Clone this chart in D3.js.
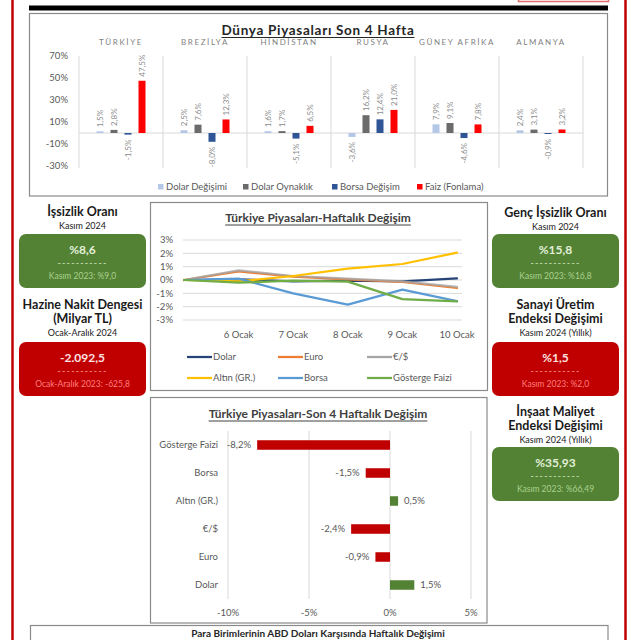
<!DOCTYPE html>
<html><head><meta charset="utf-8">
<script src="https://cdn.jsdelivr.net/npm/d3@7"></script>
<style>
html,body{margin:0;padding:0;background:#fff;}
svg{display:block;font-family:Lato,"Open Sans",sans-serif;}
</style></head><body>
<svg id="c" width="640" height="640"></svg>
<script>
// ---------- DATA ----------
const countries = ["TÜRKİYE","BREZİLYA","HİNDİSTAN","RUSYA","GÜNEY AFRİKA","ALMANYA"];
const worldSeries = ["Dolar Değişimi","Dolar Oynaklık","Borsa Değişim","Faiz (Fonlama)"];
const dolarDegisimi = [1.5,2.5,1.6,-3.6,7.9,2.4];
const dolarOynaklik = [2.8,7.6,1.7,16.2,9.1,3.1];
const borsaDegisim  = [-1.5,-8.0,-5.1,12.4,-4.6,-0.9];
const faizFonlama   = [47.5,12.3,6.5,21.0,7.8,3.2];
const worldTicks = [-30,-10,10,30,50,70];

const days = ["","6 Ocak","7 Ocak","8 Ocak","9 Ocak","10 Ocak"];
const weeklySeries = ["Dolar","Euro","€/$","Altın (GR.)","Borsa","Gösterge Faizi"];
const wDolar  = [0,0.05,-0.1,-0.05,-0.1,0.12];
const wEuro   = [0,0.65,0.25,0.05,-0.15,-0.6];
const wEurUsd = [0,0.72,0.3,0.1,-0.1,-0.52];
const wAltin  = [0,-0.1,0.3,0.85,1.2,2.05];
const wBorsa  = [0,0.1,-1.0,-1.85,-0.72,-1.58];
const wFaiz   = [0,-0.2,-0.05,-0.12,-1.43,-1.6];
const weeklyTicks = [-3,-2,-1,0,1,2,3];

const fourWeekCats = ["Gösterge Faizi","Borsa","Altın (GR.)","€/$","Euro","Dolar"];
const fourWeekVals = [-8.2,-1.5,0.5,-2.4,-0.9,1.5];
const fourWeekTicks = [-10,-5,0,5];

const kpiTitles = [["İşsizlik Oranı"],["Hazine Nakit Dengesi","(Milyar TL)"],["Genç İşsizlik Oranı"],["Sanayi Üretim","Endeksi Değişimi"],["İnşaat Maliyet","Endeksi Değişimi"]];
const kpiPeriods = ["Kasım 2024","Ocak-Aralık 2024","Kasım 2024","Kasım 2024 (Yıllık)","Kasım 2024 (Yıllık)"];
const kpiValues = ["%8,6","-2.092,5","%15,8","%1,5","%35,93"];
const kpiPrevious = ["Kasım 2023: %9,0","Ocak-Aralık 2023: -625,8","Kasım 2023: %16,8","Kasım 2023: %2,0","Kasım 2023: %66,49"];
const kpiGood = [true,false,true,false,true];

const bottomTitle = "Para Birimlerinin ABD Doları Karşısında Haftalık Değişimi";

// ---------- DRAW ----------
const svg = d3.select("#c");
const fmtPct = v => v.toFixed(1).replace(".", ",") + "%";
const TXT = "#595959";

function underline(sel, y, color, w){
  const node = sel.node();
  const len = node.getComputedTextLength();
  const cx = +sel.attr("x");
  svg.append("line").attr("x1", cx - len/2).attr("x2", cx + len/2)
    .attr("y1", y).attr("y2", y).attr("stroke", color).attr("stroke-width", w || 1);
}

// frame
svg.append("line").attr("x1",12.5).attr("x2",12.5).attr("y1",0).attr("y2",640).attr("stroke","#c00000").attr("stroke-width",2.5);
svg.append("line").attr("x1",625.5).attr("x2",625.5).attr("y1",0).attr("y2",640).attr("stroke","#c00000").attr("stroke-width",2.5);
svg.append("rect").attr("x",518.5).attr("y",-20).attr("width",90).attr("height",21.5).attr("fill","none").attr("stroke","#e46c6c").attr("stroke-width",1.5);
svg.append("rect").attr("x",29).attr("y",5.5).attr("width",579).attr("height",5).attr("fill","#000");

// boxes
const boxStroke = "#8a8a8a";
svg.append("rect").attr("x",29.5).attr("y",13.5).attr("width",578).attr("height",182.5).attr("fill","#fff").attr("stroke",boxStroke).attr("stroke-width",1.2);
svg.append("rect").attr("x",150.5).attr("y",202.5).attr("width",337).attr("height",188).attr("fill","#fff").attr("stroke",boxStroke).attr("stroke-width",1.2);
svg.append("rect").attr("x",150.5).attr("y",397.5).attr("width",336.5).attr("height",225.5).attr("fill","#fff").attr("stroke",boxStroke).attr("stroke-width",1.2);
svg.append("rect").attr("x",30.5).attr("y",625.5).attr("width",577.5).attr("height",60).attr("fill","#fff").attr("stroke",boxStroke).attr("stroke-width",1.2);

// ===== World chart =====
const t1 = svg.append("text").attr("x",318).attr("y",30.5).attr("dy","0.35em").attr("text-anchor","middle")
  .attr("font-size",13.5).attr("font-weight",700).attr("letter-spacing",0.7).attr("fill","#262626")
  .text("Dünya Piyasaları Son 4 Hafta");
underline(t1, 37.5, "#262626", 1.1);

const x0 = d3.scaleBand().domain(countries).range([79,583]);
const x1 = d3.scaleBand().domain(worldSeries).range([0,x0.bandwidth()]).paddingOuter(1);
const yW = d3.scaleLinear().domain([-30,70]).range([166,56]);
const worldColors = d3.scaleOrdinal().domain(worldSeries).range(["#b4c7e7","#6b6b6b","#2f5597","#ff0000"]);
const worldVals = [dolarDegisimi, dolarOynaklik, borsaDegisim, faizFonlama];

const gW = svg.append("g");
const seps = countries.map(c => x0(c)).concat([x0.range()[1]]);
gW.selectAll("line.sep").data(seps).join("line")
  .attr("x1",d=>d).attr("x2",d=>d).attr("y1",yW(70)).attr("y2",yW(-30)+2)
  .attr("stroke","#d9d9d9").attr("stroke-width",1);
gW.append("line").attr("x1",x0.range()[0]).attr("x2",x0.range()[1]).attr("y1",yW(0)).attr("y2",yW(0))
  .attr("stroke","#d9d9d9").attr("stroke-width",1);
gW.selectAll("text.yt").data(worldTicks).join("text")
  .attr("x",68).attr("y",d=>yW(d)).attr("dy","0.35em").attr("text-anchor","end")
  .attr("font-size",9.5).attr("fill",TXT).text(d=>d+"%");
gW.selectAll("text.cl").data(countries).join("text")
  .attr("x",d=>x0(d)+x0.bandwidth()/2).attr("y",42).attr("dy","0.35em").attr("text-anchor","middle")
  .attr("font-size",8).attr("letter-spacing",1.6).attr("fill","#7f7f7f").text(d=>d);
const worldData = [];
countries.forEach((c,i)=>worldSeries.forEach((s,j)=>worldData.push({c,s,v:worldVals[j][i]})));
const bw = x1.bandwidth()*0.5;
gW.selectAll("rect.b").data(worldData).join("rect")
  .attr("x",d=>x0(d.c)+x1(d.s)+(x1.bandwidth()-bw)/2)
  .attr("width",bw)
  .attr("y",d=>yW(Math.max(0,d.v)))
  .attr("height",d=>Math.max(0.8,Math.abs(yW(d.v)-yW(0))))
  .attr("fill",d=>worldColors(d.s));
gW.selectAll("text.dl").data(worldData).join("text")
  .attr("transform",d=>{
    const cx = x0(d.c)+x1(d.s)+x1.bandwidth()/2;
    const cy = d.v>=0 ? yW(d.v)-4 : yW(d.v)+5;
    return `translate(${cx},${cy}) rotate(-90)`;
  })
  .attr("dy","0.35em").attr("text-anchor",d=>d.v>=0?"start":"end")
  .attr("font-size",8).attr("fill","#8c8c8c").text(d=>fmtPct(d.v));
const legX = [158,243,332,417];
worldSeries.forEach((s,i)=>{
  gW.append("rect").attr("x",legX[i]).attr("y",184).attr("width",5.5).attr("height",5.5).attr("fill",worldColors(s));
  gW.append("text").attr("x",legX[i]+8).attr("y",187).attr("dy","0.35em").attr("font-size",9.5).attr("fill",TXT).text(s);
});

// ===== KPI cards =====
const kpiLayout = [{cx:82.5,ty:212,by:234},{cx:82.5,ty:305,by:342},{cx:555.5,ty:213,by:234},{cx:555.5,ty:305,by:342},{cx:555.5,ty:412,by:447}];
kpiTitles.forEach((lines,i)=>{
  const L = kpiLayout[i];
  const g = svg.append("g");
  lines.forEach((ln,k)=>{
    g.append("text").attr("x",L.cx).attr("y",L.ty+k*14).attr("dy","0.35em").attr("text-anchor","middle")
      .attr("font-size",12.5).attr("font-weight",700).attr("fill","#1a1a1a").text(ln);
  });
  g.append("text").attr("x",L.cx).attr("y",L.ty+(lines.length-1)*14+13.5).attr("dy","0.35em").attr("text-anchor","middle")
    .attr("font-size",9).attr("fill","#1a1a1a").text(kpiPeriods[i]);
  const good = kpiGood[i];
  g.append("rect").attr("x",L.cx-63.5).attr("y",L.by).attr("width",127).attr("height",54).attr("rx",7)
    .attr("fill",good?"#548235":"#c00000");
  g.append("text").attr("x",L.cx).attr("y",L.by+16).attr("dy","0.35em").attr("text-anchor","middle")
    .attr("font-size",12).attr("font-weight",700).attr("fill",good?"#e2f0d9":"#fde2e2").text(kpiValues[i]);
  g.append("text").attr("x",L.cx).attr("y",L.by+29).attr("dy","0.35em").attr("text-anchor","middle")
    .attr("font-size",9).attr("letter-spacing",1.2).attr("fill",good?"#d5eac4":"#ff9d9d").text("-----------");
  g.append("text").attr("x",L.cx).attr("y",L.by+42.5).attr("dy","0.35em").attr("text-anchor","middle")
    .attr("font-size",8.5).attr("fill",good?"#a9d18e":"#ff7f7f").text(kpiPrevious[i]);
});

// ===== Weekly line chart =====
const t2 = svg.append("text").attr("x",318).attr("y",218).attr("dy","0.35em").attr("text-anchor","middle")
  .attr("font-size",12).attr("font-weight",700).attr("fill","#404040").text("Türkiye Piyasaları-Haftalık Değişim");
underline(t2, 225, "#404040", 1);
const xP = d3.scalePoint().domain(days).range([184,457]);
const yL = d3.scaleLinear().domain([-3,3]).range([320,240]);
const gL = svg.append("g");
gL.selectAll("line.g").data(weeklyTicks).join("line")
  .attr("x1",183).attr("x2",462).attr("y1",d=>yL(d)).attr("y2",d=>yL(d)).attr("stroke","#d9d9d9").attr("stroke-width",1);
gL.selectAll("text.yt").data(weeklyTicks).join("text")
  .attr("x",173).attr("y",d=>yL(d)).attr("dy","0.35em").attr("text-anchor","end")
  .attr("font-size",9.5).attr("fill",TXT).text(d=>d+"%");
gL.selectAll("text.xt").data(days).join("text")
  .attr("x",d=>xP(d)).attr("y",335).attr("dy","0.35em").attr("text-anchor","middle")
  .attr("font-size",9.5).attr("fill",TXT).text(d=>d);
const weeklyVals = [wDolar,wEuro,wEurUsd,wAltin,wBorsa,wFaiz];
const weeklyColors = ["#264478","#ed7d31","#a5a5a5","#ffc000","#5b9bd5","#70ad47"];
const weeklyOpacity = [1,1,0.8,1,1,1];
const line = d3.line().x((d,i)=>xP(days[i])).y(d=>yL(d));
weeklyVals.forEach((vals,i)=>{
  gL.append("path").attr("d",line(vals)).attr("fill","none").attr("stroke",weeklyColors[i])
    .attr("stroke-opacity",weeklyOpacity[i]).attr("stroke-width",2.25).attr("stroke-linejoin","round").attr("stroke-linecap","round");
});
const lcols = [187,278,367], lrows = [357,378];
weeklySeries.forEach((s,i)=>{
  const lx = lcols[i%3], ly = lrows[Math.floor(i/3)];
  gL.append("line").attr("x1",lx).attr("x2",lx+25).attr("y1",ly).attr("y2",ly).attr("stroke",weeklyColors[i]).attr("stroke-width",2.25);
  gL.append("text").attr("x",lx+26).attr("y",ly).attr("dy","0.35em").attr("font-size",9.5).attr("fill",TXT).text(s);
});

// ===== 4-week bar chart =====
const t3 = svg.append("text").attr("x",318).attr("y",414).attr("dy","0.35em").attr("text-anchor","middle")
  .attr("font-size",12).attr("font-weight",700).attr("fill","#404040").text("Türkiye Piyasaları-Son 4 Haftalık Değişim");
underline(t3, 421, "#404040", 1);
const yB = d3.scaleBand().domain(fourWeekCats).range([431,599]);
const xB = d3.scaleLinear().domain([-10,5]).range([228,471]);
const gB = svg.append("g");
gB.selectAll("line.g").data(fourWeekTicks).join("line")
  .attr("x1",d=>xB(d)).attr("x2",d=>xB(d)).attr("y1",431).attr("y2",599).attr("stroke","#d9d9d9").attr("stroke-width",1);
gB.selectAll("text.xt").data(fourWeekTicks).join("text")
  .attr("x",d=>xB(d)).attr("y",613).attr("dy","0.35em").attr("text-anchor","middle")
  .attr("font-size",9.5).attr("fill",TXT).text(d=>d+"%");
gB.selectAll("text.yc").data(fourWeekCats).join("text")
  .attr("x",218).attr("y",d=>yB(d)+yB.bandwidth()/2).attr("dy","0.35em").attr("text-anchor","end")
  .attr("font-size",9.5).attr("fill",TXT).text(d=>d);
const bh = yB.bandwidth()*0.34;
const fw = fourWeekCats.map((c,i)=>({c,v:fourWeekVals[i]}));
gB.selectAll("rect.b").data(fw).join("rect")
  .attr("x",d=>xB(Math.min(0,d.v))).attr("width",d=>Math.abs(xB(d.v)-xB(0)))
  .attr("y",d=>yB(d.c)+(yB.bandwidth()-bh)/2).attr("height",bh)
  .attr("fill",d=>d.v<0?"#c00000":"#548235");
gB.selectAll("text.vl").data(fw).join("text")
  .attr("x",d=>d.v<0?xB(d.v)-6:xB(d.v)+6).attr("y",d=>yB(d.c)+yB.bandwidth()/2).attr("dy","0.35em")
  .attr("text-anchor",d=>d.v<0?"end":"start").attr("font-size",9.5).attr("fill",TXT).text(d=>fmtPct(d.v));

// bottom title (kept fully inside the page)
svg.append("text").attr("x",318).attr("y",636.5).attr("text-anchor","middle").attr("font-size",10).attr("font-weight",700)
  .attr("fill","#262626").text(bottomTitle);
</script>
</body></html>
